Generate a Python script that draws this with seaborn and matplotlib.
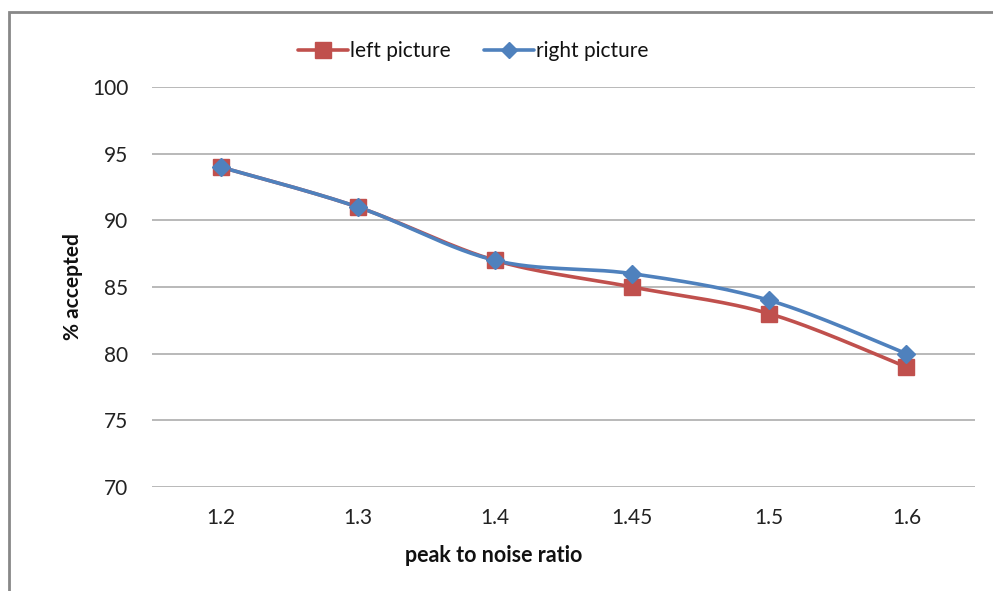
import numpy as np
import pandas as pd
import matplotlib
matplotlib.use("Agg")
import matplotlib.pyplot as plt
import seaborn as sns
from matplotlib.lines import Line2D
from matplotlib.patches import Rectangle

categories = ["1.2", "1.3", "1.4", "1.45", "1.5", "1.6"]
left_picture = [94, 91, 87, 85, 83, 79]
right_picture = [94, 91, 87, 86, 84, 80]
y_ticks = [70, 75, 80, 85, 90, 95, 100]

RED = "#C0504D"
BLUE = "#4F81BD"

sns.set_theme(style="white")
plt.rcParams["font.family"] = ["Lato", "DejaVu Sans"]


def smooth(values, n=30):
    """Catmull-Rom style smoothing (like Excel's smoothed line) in category index space."""
    y = np.asarray(values, dtype=float)
    x = np.arange(len(y), dtype=float)
    xs, ys = [], []
    for i in range(len(y) - 1):
        p0 = (x[i - 1], y[i - 1]) if i > 0 else (x[i], y[i])
        p1 = (x[i], y[i])
        p2 = (x[i + 1], y[i + 1])
        p3 = (x[i + 2], y[i + 2]) if i + 2 < len(y) else (x[i + 1], y[i + 1])
        c1 = (p1[0] + (p2[0] - p0[0]) / 6, p1[1] + (p2[1] - p0[1]) / 6)
        c2 = (p2[0] - (p3[0] - p1[0]) / 6, p2[1] - (p3[1] - p1[1]) / 6)
        t = np.linspace(0, 1, n)
        bx = (1 - t) ** 3 * p1[0] + 3 * (1 - t) ** 2 * t * c1[0] + 3 * (1 - t) * t ** 2 * c2[0] + t ** 3 * p2[0]
        by = (1 - t) ** 3 * p1[1] + 3 * (1 - t) ** 2 * t * c1[1] + 3 * (1 - t) * t ** 2 * c2[1] + t ** 3 * p2[1]
        xs.extend(bx)
        ys.extend(by)
    return np.array(xs), np.array(ys)


fig = plt.figure(figsize=(9.93, 5.91), dpi=100)
ax = fig.add_axes([152 / 993, 1 - 487 / 591, (975 - 152) / 993, (487 - 87) / 591])

idx = np.arange(len(categories))
for vals, col, mk, ms in [(left_picture, RED, "s", 11), (right_picture, BLUE, "D", 9)]:
    sx, sy = smooth(vals)
    sns.lineplot(x=sx, y=sy, ax=ax, color=col, linewidth=2.6, sort=False, zorder=3)
    df = pd.DataFrame({"x": idx, "y": vals})
    ax.plot(df["x"], df["y"], linestyle="none", marker=mk, markersize=ms,
            color=col, markeredgecolor=col, zorder=4)

ax.set_xlim(-0.5, len(categories) - 0.5)
ax.set_ylim(70, 100)
ax.set_yticks(y_ticks)
ax.set_xticks(idx)
ax.set_xticklabels(categories)
ax.yaxis.grid(True, color="#A6A6A6", linewidth=1.1)
ax.xaxis.grid(False)
for s in ax.spines.values():
    s.set_visible(False)
ax.tick_params(axis="both", length=0, labelsize=15, colors="#222222")
ax.tick_params(axis="y", pad=17)
ax.tick_params(axis="x", pad=15)
ax.set_xlabel("")
ax.set_ylabel("")

fig.text(494 / 993, 1 - 556 / 591, "peak to noise ratio", ha="center", va="center",
         fontsize=15.5, fontweight="bold", color="#111111")
fig.text(73 / 993, 1 - 287 / 591, "% accepted", ha="center", va="center", rotation=90,
         fontsize=15, fontweight="bold", color="#111111")

handles = [
    Line2D([0], [0], color=RED, linewidth=2.6, marker="s", markersize=11),
    Line2D([0], [0], color=BLUE, linewidth=2.6, marker="D", markersize=8),
]
fig.legend(handles, ["left picture", "right picture"], loc="center",
           bbox_to_anchor=(473 / 993, 1 - 51 / 591), ncol=2, frameon=False,
           fontsize=15, handlelength=2.4, handletextpad=0.1, columnspacing=1.6,
           labelcolor="#111111")

fig.patches.append(Rectangle((9 / 993, -0.1), 1.2, 1 - 12 / 591 + 0.1,
                             transform=fig.transFigure, fill=False,
                             edgecolor="#888888", linewidth=2))

fig.savefig("out.png", dpi=100)
